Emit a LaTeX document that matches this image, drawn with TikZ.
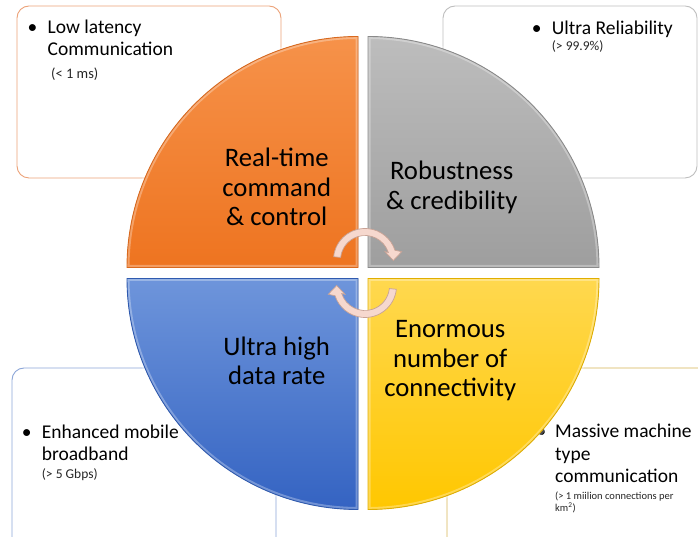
\documentclass[tikz,border=0pt]{standalone}
\usepackage{fontspec}
\setmainfont{Carlito}
\usetikzlibrary{positioning,calc}

\definecolor{rtTop}{HTML}{F6924A}
\definecolor{rtBot}{HTML}{EE7420}
\definecolor{rtEdge}{HTML}{D9691E}
\definecolor{rbTop}{HTML}{BDBDBD}
\definecolor{rbBot}{HTML}{9E9E9E}
\definecolor{rbEdge}{HTML}{8A8A8A}
\definecolor{hdTop}{HTML}{6E95DB}
\definecolor{hdBot}{HTML}{3463C2}
\definecolor{hdEdge}{HTML}{2F5AAF}
\definecolor{mcTop}{HTML}{FFD84F}
\definecolor{mcBot}{HTML}{FFC700}
\definecolor{mcEdge}{HTML}{E0AE00}
\definecolor{turnFill}{HTML}{F6D8CE}
\definecolor{turnEdge}{HTML}{C8A295}

\tikzset{
  box/.style={draw, fill=white, rounded corners=12pt, line width=0.9pt},
  item/.style={inner sep=0pt, align=left, anchor=base west,
    font=\fontsize{19.5}{22.6}\selectfont},
  dot/.style={inner sep=0pt, font=\fontsize{19.5}{22.6}\selectfont},
  note/.style={inner sep=0pt, align=left, anchor=base west, text=black!85},
  sector/.style={postaction={draw=white, draw opacity=0.3, line width=5pt},
    postaction={draw=#1, line width=0.9pt}},
  quad/.style={inner sep=0pt, align=center,
    font=\fontsize{26.7}{29.3}\selectfont},
  cyc/.style={fill=turnFill, draw=turnEdge, line width=0.7pt},
  turn/.pic={
    \filldraw[cyc] (174:31.5pt) arc[start angle=174, end angle=18, radius=31.5pt]
      -- (36.7,8.3) -- (28.3,-0.5) -- (20,8.3) -- (18:24.5pt)
      arc[start angle=18, end angle=174, radius=24.5pt] -- cycle;
  }
}

\begin{document}
\begin{tikzpicture}[x=1pt, y=1pt]
  \clip (0,0) rectangle (698,537);

  % outer boxes
  \draw[box, draw={rgb,255:red,236;green,162;blue,120}] (17,359) rectangle (281,531);
  \draw[box, draw={rgb,255:red,190;green,190;blue,190}] (443,359) rectangle (697,531);
  \draw[box, draw={rgb,255:red,140;green,166;blue,216}] (12,-12) rectangle (276,169);
  \draw[box, draw={rgb,255:red,214;green,180;blue,84}] (447,-12) rectangle (712,169);

  % bullet texts (a node's base is its last line)
  \node[item] (lat) at (47.5,481) {Low latency\\Communication};
  \node[dot, left=10pt of lat.base west, anchor=base east, yshift=22.6pt] (latb) {\textbullet};
  \node[note, font=\fontsize{14.5}{16}\selectfont] (latn) at (51,458) {(< 1 ms)};

  \node[item] (rel) at (551.7,502.7) {Ultra Reliability};
  \node[dot, left=10pt of rel.base west, anchor=base east] (relb) {\textbullet};
  \node[note, font=\fontsize{13.5}{15}\selectfont] (reln) at (551.7,486.3) {(> 99.9\%)};

  \node[item] (bb) at (41.7,76) {Enhanced mobile\\broadband};
  \node[dot, left=10pt of bb.base west, anchor=base east, yshift=22.6pt] (bbb) {\textbullet};
  \node[note, font=\fontsize{13.5}{15}\selectfont] (bbn) at (41.7,58.7) {(> 5 Gbps)};

  \node[item] (mtc) at (555,54) {Massive machine\\type\\communication};
  \node[dot, left=8.4pt of mtc.base west, anchor=base east, yshift=45.2pt] (mtcb) {\textbullet};
  \node[note, font=\fontsize{10.5}{12.4}\selectfont] (mtcn) at (555,25.3)
    {(> 1 miilion connections per\\km\textsuperscript{2})};

  % four quarters of the disc
  \fill[sector=rtEdge, top color=rtTop, bottom color=rtBot]
    (358,269.5) -- ++(-231,0) arc[start angle=180, end angle=90, radius=231pt] -- cycle;
  \fill[sector=rbEdge, top color=rbTop, bottom color=rbBot]
    (368,269.5) -- ++(0,231) arc[start angle=90, end angle=0, radius=231pt] -- cycle;
  \fill[sector=hdEdge, top color=hdTop, bottom color=hdBot]
    (358,258.5) -- ++(0,-231) arc[start angle=270, end angle=180, radius=231pt] -- cycle;
  \fill[sector=mcEdge, top color=mcTop, bottom color=mcBot]
    (368,258.5) -- ++(231,0) arc[start angle=0, end angle=-90, radius=231pt] -- cycle;

  \node[quad] (rt) at (276.7,350) {Real-time\\command\\\& control};
  \node[quad] (rb) at (451.7,349.5) {Robustness\\\& credibility};
  \node[quad] (hd) at (276.7,176.2) {Ultra high\\data rate};
  \node[quad] (mc) at (450.2,176.2) {Enormous\\number of\\connectivity};

  % turning arrows in the middle
  \pic at (365,277) {turn};
  \pic[rotate=180] at (365,251) {turn};
\end{tikzpicture}
\end{document}
